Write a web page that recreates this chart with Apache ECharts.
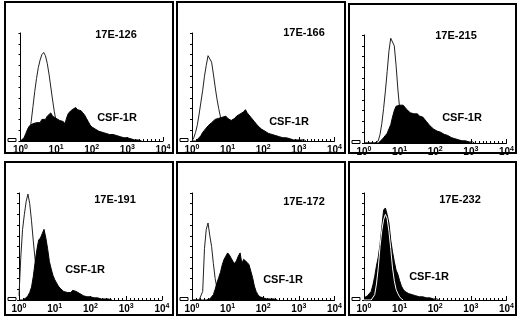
<!DOCTYPE html>
<html>
<head>
<meta charset="utf-8">
<script src="https://cdn.jsdelivr.net/npm/echarts@6/dist/echarts.min.js"></script>
<style>
  html, body { margin: 0; padding: 0; background: #fff; }
  #chart { width: 520px; height: 320px; }
</style>
</head>
<body>
<div id="chart"></div>
<script>
// log10 fluorescence bins, 0.05 decade wide
const bins = [];
for (let i = 0; i <= 80; i++) bins.push(+(i * 0.05).toFixed(2));

const decades = [0, 1, 2, 3, 4];
const sampleNames = ['17E-126', '17E-166', '17E-215', '17E-191', '17E-172', '17E-232'];
const markerName = 'CSF-1R';

// open histograms (control)
const control126 = [0, 0, 1, 2, 4, 6, 18, 32, 46, 58, 68, 75, 80, 82, 79, 72, 62, 50, 38, 27, 18, 12, 8, 6, 4, 3, 2, 2, 1, 1, 1, 0];
const control166 = [0, 3, 8, 15, 25, 36, 47, 60, 70, 79, 80, 73, 62, 50, 39, 30, 22, 16, 12, 9, 7, 5, 4, 3, 2, 2, 1, 0];
const control215 = [0, 0, 0, 0, 0, 0, 0, 0, 2, 8, 18, 32, 48, 66, 85, 97, 98, 90, 72, 50, 32, 20, 12, 8, 5, 3, 2, 1, 1, 0];
const control191 = [4, 40, 66, 80, 92, 99, 90, 74, 55, 38, 24, 15, 10, 7, 5, 4, 3, 2, 2, 1, 1, 0];
const control172 = [0, 0, 0, 0, 0, 0, 8, 48, 66, 72, 60, 50, 34, 20, 11, 6, 4, 3, 2, 1, 1, 0];
const control232 = [0, 0, 0, 0, 0, 0, 5, 15, 30, 50, 65, 75, 80, 76, 64, 48, 30, 18, 10, 6, 3, 1, 0];

// filled histograms (CSF-1R)
const csf126 = [0, 1, 3, 7, 11, 14, 15, 16, 15, 17, 18, 17, 20, 21, 20, 23, 24, 26, 23, 22,
  21, 22, 19, 20, 18, 16, 22, 26, 27, 29, 28, 31, 29, 30, 28, 26, 24, 21, 18, 15,
  13, 12, 11, 10, 9, 9, 8, 8, 7, 7, 6, 6, 6, 5, 5, 5, 4, 4, 3, 3, 3, 2, 2, 2, 1, 1, 1, 1, 0];
const csf166 = [0, 0, 0, 1, 3, 5, 8, 10, 12, 14, 15, 17, 18, 20, 19, 21, 20, 22, 21, 23,
  21, 22, 19, 20, 21, 23, 22, 25, 26, 27, 29, 26, 25, 22, 21, 18, 16, 14, 13, 11,
  10, 9, 8, 7, 7, 6, 5, 5, 5, 4, 4, 3, 3, 3, 2, 2, 2, 1, 1, 1, 1, 1, 1, 1, 0];
const csf215 = [0, 0, 0, 0, 0, 0, 0, 0, 0, 1, 3, 5, 7, 9, 13, 17, 24, 30, 34, 33,
  35, 34, 35, 33, 31, 30, 28, 29, 27, 26, 27, 25, 26, 24, 22, 20, 18, 16, 15, 13,
  12, 11, 11, 10, 9, 8, 8, 7, 6, 5, 5, 4, 3, 3, 3, 2, 2, 2, 1, 1, 1, 1, 0];
const csf191 = [0, 0, 0, 1, 2, 4, 7, 12, 22, 35, 47, 56, 58, 62, 66, 58, 48, 36, 29, 23,
  19, 16, 13, 11, 10, 8, 8, 7, 6, 7, 9, 8, 8, 7, 6, 5, 4, 4, 3, 3,
  3, 2, 2, 2, 2, 2, 1, 1, 1, 1, 1, 1, 0];
const csf172 = [0, 0, 0, 0, 0, 0, 0, 0, 0, 0, 1, 2, 5, 10, 16, 21, 26, 33, 38, 41,
  44, 42, 39, 36, 34, 37, 41, 44, 34, 38, 37, 35, 33, 27, 21, 13, 8, 5, 3, 2,
  2, 1, 1, 1, 1, 1, 1, 1, 0];
const csf232 = [2, 3, 4, 6, 8, 14, 22, 32, 40, 52, 68, 84, 86, 80, 72, 56, 45, 36, 28, 24,
  18, 13, 10, 8, 7, 6, 6, 5, 5, 4, 4, 3, 3, 3, 2, 2, 2, 2, 1, 1, 1, 1, 0];

const controls = [control126, control166, control215, control191, control172, control232];
const filled = [csf126, csf166, csf215, csf191, csf172, csf232];

// layout of the six panels
const panels = [
  { box: [5, 2, 168, 151], grid: [20.5, 33, 142.5, 108], name: [116, 35], mark: [117, 118] },
  { box: [177, 2, 168, 151], grid: [192, 33, 142.5, 108], name: [304, 33], mark: [289, 122] },
  { box: [349, 4, 167, 149], grid: [364, 35, 142.5, 108], name: [456, 36], mark: [462, 118] },
  { box: [5, 162, 168, 153], grid: [19, 193, 143, 107], name: [115, 200], mark: [85, 270] },
  { box: [177, 162, 168, 153], grid: [192, 193, 142.5, 107], name: [304, 202], mark: [283, 280] },
  { box: [349, 162, 167, 153], grid: [364, 193, 142.5, 107], name: [460, 200], mark: [429, 277] }
];

const toPairs = arr => arr.map((v, i) => [bins[i], v]);

const chart = echarts.init(document.getElementById('chart'), null, { renderer: 'canvas' });

const grids = [], xAxes = [], yAxes = [], series = [], graphics = [];
const font = '"Liberation Sans", Arial, sans-serif';

panels.forEach((p, i) => {
  grids.push({ left: p.grid[0], top: p.grid[1], width: p.grid[2], height: p.grid[3] });
  xAxes.push({
    gridIndex: i, type: 'value', min: 0, max: 4, interval: 1,
    axisLine: { lineStyle: { color: '#000', width: 1 } },
    axisTick: { inside: true, length: 4, lineStyle: { color: '#000' } },
    minorTick: { show: true, splitNumber: 9, length: 2, lineStyle: { color: '#000' } },
    splitLine: { show: false },
    axisLabel: {
      margin: 3,
      formatter: v => decades.includes(v) ? '10{s|' + v + '}' : '',
      color: '#000', fontFamily: font, fontWeight: 'bold', fontSize: 10,
      rich: { s: { fontSize: 7, fontWeight: 'bold', fontFamily: font, color: '#000', verticalAlign: 'top', padding: [0, 0, 5, 0] } }
    }
  });
  yAxes.push({
    gridIndex: i, type: 'value', min: 0, max: 100, interval: 10,
    axisLine: { show: true, lineStyle: { color: '#000', width: 1 } },
    axisTick: { show: true, inside: false, length: 2, lineStyle: { color: '#000' } },
    axisLabel: { show: false },
    splitLine: { show: false }
  });
  const whiteOutline = i === 5;
  series.push({
    type: 'line', xAxisIndex: i, yAxisIndex: i, data: toPairs(controls[i]),
    showSymbol: false, silent: true, z: whiteOutline ? 4 : 2,
    lineStyle: { color: whiteOutline ? '#fff' : '#222', width: 1 }
  });
  series.push({
    type: 'line', xAxisIndex: i, yAxisIndex: i, data: toPairs(filled[i]),
    showSymbol: false, silent: true, z: 3,
    lineStyle: { color: '#000', width: 1 },
    areaStyle: { color: '#000', opacity: 1 }
  });

  graphics.push({
    type: 'rect', shape: { x: p.box[0], y: p.box[1], width: p.box[2], height: p.box[3] },
    style: { fill: 'none', stroke: '#000', lineWidth: 2 }, silent: true
  });
  graphics.push({
    type: 'rect', shape: { x: p.box[0] + 3, y: p.grid[1] + p.grid[3] - 2.5, width: 8, height: 3 },
    style: { fill: '#fff', stroke: '#000', lineWidth: 1 }, silent: true
  });
  graphics.push({
    type: 'text', x: p.name[0], y: p.name[1],
    style: { text: sampleNames[i], font: 'bold 11px ' + font, fill: '#000', align: 'center', verticalAlign: 'middle' }
  });
  graphics.push({
    type: 'text', x: p.mark[0], y: p.mark[1],
    style: { text: markerName, font: 'bold 11px ' + font, fill: '#000', align: 'center', verticalAlign: 'middle' }
  });
});

const option = {
  animation: false,
  backgroundColor: '#fff',
  grid: grids,
  xAxis: xAxes,
  yAxis: yAxes,
  series: series,
  graphic: graphics
};

option && chart.setOption(option);

window.addEventListener('resize', function () {
  chart.resize();
});
</script>
</body>
</html>
